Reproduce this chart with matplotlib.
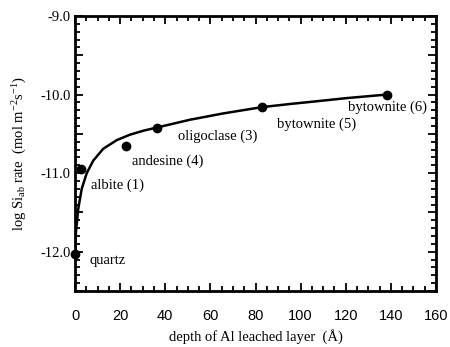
import matplotlib
matplotlib.use("Agg")
import matplotlib.pyplot as plt
from matplotlib.ticker import MultipleLocator, FixedLocator

# measured minerals: depth of Al-leached layer vs log Si release rate
minerals = ['quartz', 'albite (1)', 'andesine (4)', 'oligoclase (3)', 'bytownite (5)', 'bytownite (6)']
depth = [0.0, 2.5, 22.6, 36.5, 82.8, 138.5]
log_rate = [-12.03, -10.95, -10.66, -10.43, -10.16, -10.01]

# fitted trend line
fit_depth = [0, 0.44, 1.46, 2.97, 5.19, 8.1, 12.5, 18.5, 24.4, 30.3, 36.2,
             51, 65.7, 82.8, 95.3, 105.5, 120.4, 138.2]
fit_rate = [-12.03, -11.74, -11.45, -11.20, -11.00, -10.84, -10.69, -10.58,
            -10.51, -10.46, -10.42, -10.32, -10.24, -10.16, -10.12, -10.09,
            -10.045, -10.00]

# label anchor (left edge, vertical centre) for each mineral
label_x = [6.6, 7.1, 25.3, 45.6, 89.5, 121.0]
label_y = [-12.11, -11.16, -10.85, -10.53, -10.38, -10.16]

y_ticks = [-12.5, -12.0, -11.5, -11.0, -10.5, -10.0, -9.5, -9.0]
y_tick_labels = ['', '-12.0', '', '-11.0', '', '-10.0', '', '-9.0']

serif = 'Liberation Serif'
sans = 'Liberation Sans'
plt.rcParams['mathtext.fontset'] = 'custom'
plt.rcParams['mathtext.rm'] = serif
plt.rcParams['mathtext.it'] = serif + ':italic'

fig = plt.figure(figsize=(4.5, 3.47), dpi=100)
ax = fig.add_axes([0.1667, 0.1614, 0.8022, 0.7925])

ax.plot(fit_depth, fit_rate, color='black', lw=1.8, zorder=2)
ax.plot(depth, log_rate, 'o', color='black', ms=6, zorder=3, clip_on=False)

for name, x, y in zip(minerals, label_x, label_y):
    ax.text(x, y, name, fontsize=10.5, family=serif, ha='left', va='center')

ax.set_xlim(0, 160)
ax.set_ylim(-12.5, -9.0)

ax.xaxis.set_major_locator(MultipleLocator(20))
ax.xaxis.set_minor_locator(MultipleLocator(5))
ax.yaxis.set_major_locator(FixedLocator(y_ticks))
ax.yaxis.set_minor_locator(MultipleLocator(0.1))
ax.set_yticklabels(y_tick_labels)

ax.tick_params(which='both', direction='in', top=True, right=True, width=1.3)
ax.tick_params(which='major', length=6)
ax.tick_params(which='minor', length=3.5)
ax.tick_params(axis='x', pad=13, labelsize=10.5)
ax.tick_params(axis='y', pad=3, labelsize=10.5)
for lab in ax.get_xticklabels():
    lab.set_family(sans)
for lab in ax.get_yticklabels():
    lab.set_family(serif)

for sp in ax.spines.values():
    sp.set_linewidth(2)

ax.set_xlabel('depth of Al leached layer  (Å)', family=serif, fontsize=10.5, labelpad=4)
ax.set_ylabel(r'log Si$_{\mathrm{ab}}$ rate  (mol m$^{\mathrm{-2}}$s$^{\mathrm{-1}}$)',
              family=serif, fontsize=10.5, labelpad=8)

fig.savefig('out.png', dpi=100)
